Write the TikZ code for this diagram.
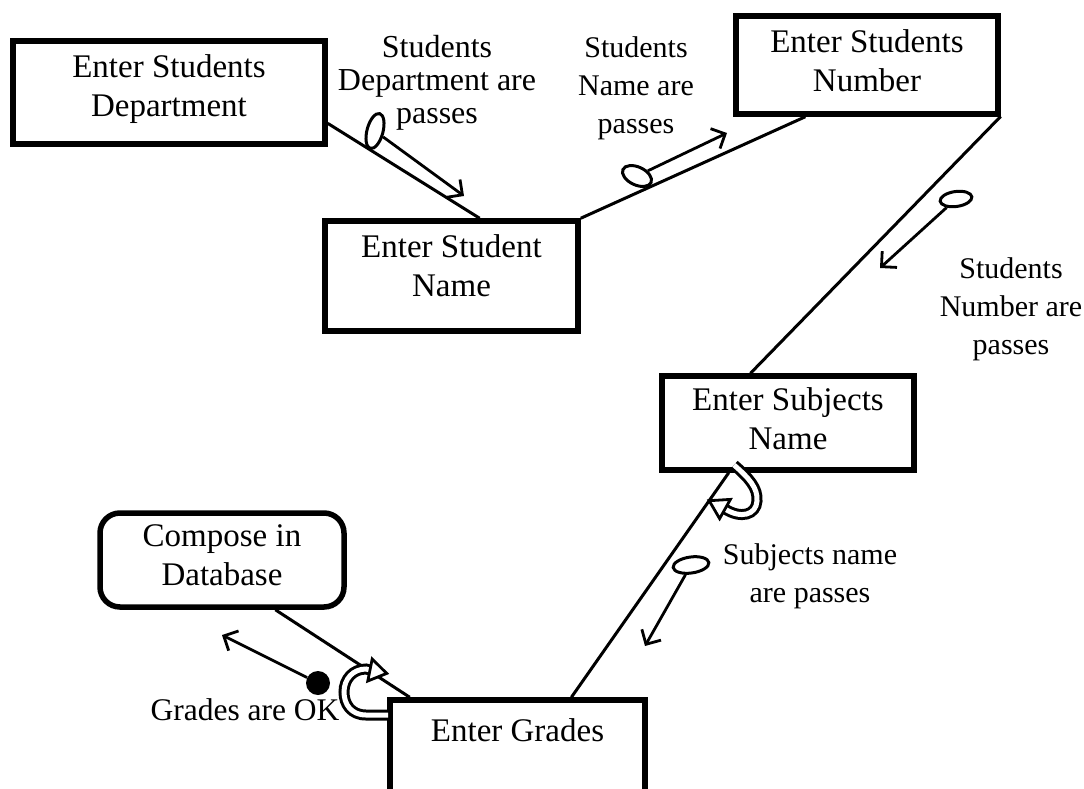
\documentclass[tikz,border=0pt]{standalone}
\usepackage{fontspec}
\setmainfont{Liberation Serif}
\usetikzlibrary{arrows.meta,calc,shapes.geometric}
\begin{document}
\begin{tikzpicture}[x=1pt,y=-1pt,
  box/.style={draw,line width=5.5pt,align=center,font=\fontsize{33}{39}\selectfont,inner sep=0pt},
  conn/.style={line width=3pt},
  flow/.style={line width=2.8pt,-{Straight Barb[length=11pt,width=22pt,line width=2.8pt]}},
  couple/.style={draw,ellipse,line width=3pt,inner sep=0pt},
  filledcouple/.style={circle,fill,inner sep=0pt,minimum size=24pt},
  lbl/.style={align=center,font=\fontsize{30}{38}\selectfont,inner sep=0pt},
  loopband/.style={draw=black,double=white,double distance=5pt,line width=3pt},
  loophead/.style={draw=black,fill=white,line width=2.8pt,line join=miter},
]
\useasboundingbox (0,0) rectangle (1084,788);
\clip (0,0) rectangle (1084,788);

% process boxes
\node[box,minimum width=312pt,minimum height=103pt,text depth=14pt] (dept) at (169,92.5) {Enter Students\\Department};
\node[box,minimum width=262pt,minimum height=98pt,text depth=8pt] (num) at (867,65) {Enter Students\\Number};
\node[box,minimum width=253pt,minimum height=110pt,text depth=20pt] (name) at (451.5,276) {Enter Student\\Name};
\node[box,minimum width=252pt,minimum height=94pt,text depth=8pt] (subj) at (788,423) {Enter Subjects\\Name};
\node[box,rounded corners=20pt,minimum width=244pt,minimum height=94pt,text depth=9pt] (comp) at (222,560) {Compose in\\Database};
\node[box,minimum width=255pt,minimum height=95pt,text depth=35pt] (grades) at (517.5,747.5) {Enter Grades};

% connectors
\draw[conn] (dept.-11.4) -- (name.64.1);
\draw[conn] (name.north east) -- (num.-140.3);
\draw[conn] (num.-21.7) -- (subj.127.5);
\draw[conn] (grades.43.2) -- (subj.-140.5);
\draw[conn] (comp.-43) -- (grades.155.1);

% data couples
\node[couple,minimum width=16pt,minimum height=36pt,rotate=-15] (c1) at (375,131) {};
\coordinate (t1) at (464,196);
\draw[flow] (c1) -- (t1);

\node[couple,minimum width=31pt,minimum height=18pt,rotate=-25] (c2) at (637,176) {};
\coordinate (t2) at (727,133);
\draw[flow] (c2) -- (t2);

\node[couple,minimum width=32pt,minimum height=15pt,rotate=8] (c3) at (956,199) {};
\coordinate (t3) at (880,268);
\draw[flow] (c3) -- (t3);

\node[couple,minimum width=36pt,minimum height=16pt,rotate=8] (c4) at (691,565) {};
\coordinate (t4) at (645,646);
\draw[flow] (c4) -- (t4);

\node[filledcouple] (c5) at (318,683) {};
\coordinate (t5) at (222,635);
\draw[flow] (c5) -- (t5);

% loop (iteration) symbols
\draw[loopband] (734,465) .. controls (749,478) and (758,488) .. (757,501) .. controls (756,515) and (741,519) .. (725,509);
\draw[loophead] (730.4,499.4) -- (709.2,500.7) -- (719.6,518.6) -- cycle;

\draw[loopband] (388,715) -- (366,715) .. controls (351,715) and (344,704) .. (344,692) .. controls (344,679) and (353,669) .. (366,669) -- (370,670);
\draw[loophead] (367.8,681) -- (386.7,673.4) -- (372.2,659) -- cycle;

% labels
\node[lbl,font=\fontsize{32}{33}\selectfont] (l1) at (437,83) {Students\\Department are\\passes};
\node[lbl] (l2) at (636,88) {Students\\Name are\\passes};
\node[lbl] (l3) at (1011,309) {Students\\Number are\\passes};
\node[lbl] (l4) at (810,576) {Subjects name\\are passes};
\node[lbl,font=\fontsize{31.5}{38}\selectfont] (l5) at (245,710) {Grades are OK};
\end{tikzpicture}
\end{document}
